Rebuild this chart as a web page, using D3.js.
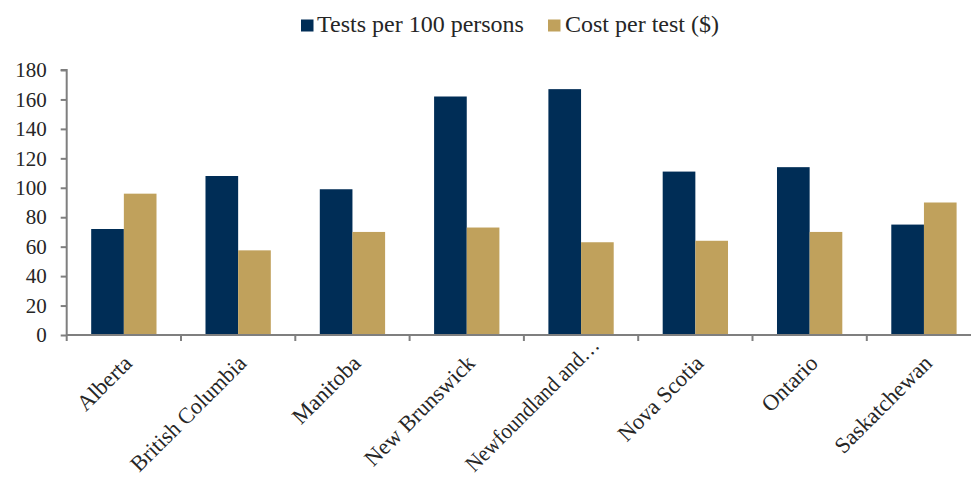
<!DOCTYPE html>
<html><head><meta charset="utf-8">
<script src="https://cdn.jsdelivr.net/npm/d3@7"></script>
<style>body{margin:0;background:#fff}svg{display:block}</style>
</head><body><svg id="c" width="971" height="483"></svg>
<script>
const categories = ["Alberta","British Columbia","Manitoba","New Brunswick","Newfoundland and…","Nova Scotia","Ontario","Saskatchewan"];
const testsPer100 = [72,108,99,162,167,111,114,75];
const costPerTest = [96,57.5,70,73,63,64,70,90];
const seriesNames = ["Tests per 100 persons","Cost per test ($)"];
const colors = ["#002D56","#C0A15C"];
const yTicks = [0,20,40,60,80,100,120,140,160,180];

const FONT = "'Liberation Serif','Times New Roman',serif";
const TXT = "#262626";
const W = 971, H = 483;
const svg = d3.select("#c");
const x0 = 66.7, bandW = 114.3;
const x = d3.scaleBand().domain(categories).range([x0, x0 + bandW*categories.length]).paddingInner(0).paddingOuter(0);
const xs = d3.scaleBand().domain([0,1]).range([0, x.bandwidth()]).paddingInner(0).paddingOuter(0.75);
const y = d3.scaleLinear().domain([0,180]).range([335,70]);
const axisColor = "#7f7f7f";

// bars
const data = categories.map((c,i)=>({c, v:[testsPer100[i], costPerTest[i]]}));
const g = svg.append("g");
data.forEach(d=>{
  d.v.forEach((v,s)=>{
    g.append("rect").attr("x", x(d.c)+xs(s)).attr("width", xs.bandwidth())
      .attr("y", y(v)).attr("height", y(0)-y(v)).attr("fill", colors[s]);
  });
});

// y axis
const ya = svg.append("g").attr("transform",`translate(${x0},0)`)
  .call(d3.axisLeft(y).tickValues(yTicks).tickSize(6).tickPadding(14).tickFormat(d3.format("d")));
ya.select(".domain").attr("stroke",axisColor).attr("stroke-width",2).attr("d",`M-6,${y(180)}H0V${y(0)}`);
ya.selectAll(".tick line").attr("stroke",axisColor).attr("stroke-width",2);
ya.selectAll(".tick text").style("font-size","21px").style("font-family",FONT).attr("fill",TXT);

// x axis
const xa = svg.append("g").attr("transform",`translate(0,${y(0)})`);
xa.append("line").attr("x1",x0).attr("x2",W).attr("stroke",axisColor).attr("stroke-width",2);
categories.forEach(c=>{
  xa.append("line").attr("x1",x(c)).attr("x2",x(c)).attr("y1",0).attr("y2",6).attr("stroke",axisColor).attr("stroke-width",2);
  const truncated = c.endsWith("…");
  const cx = x(c)+x.bandwidth()/2 + (truncated ? 14 : 4);
  const cy = truncated ? 6 : 24;
  const t = xa.append("text").attr("transform",`translate(${cx},${cy}) rotate(-45)`).attr("text-anchor","end")
    .style("font-size","22.5px").style("font-family",FONT).attr("fill",TXT).attr("dy","0.35em").text(c);
  // keep label (with its descent) inside the picture
  const endY = y(0) + cy + 5.6;
  const maxLen = (H - 10 - endY) / Math.SQRT1_2;
  const len = t.node().getComputedTextLength();
  if (len > maxLen) t.attr("textLength", maxLen).attr("lengthAdjust","spacingAndGlyphs");
});

// legend
const leg = svg.append("g");
const legItems = [{x:301, tx:317},{x:548, tx:565}];
seriesNames.forEach((n,i)=>{
  leg.append("rect").attr("x",legItems[i].x).attr("y",19.5).attr("width",12.5).attr("height",12).attr("fill",colors[i]);
  leg.append("text").attr("x",legItems[i].tx).attr("y",32).style("font-size","24px").style("font-family",FONT).attr("fill",TXT).text(n);
});
</script></body></html>
